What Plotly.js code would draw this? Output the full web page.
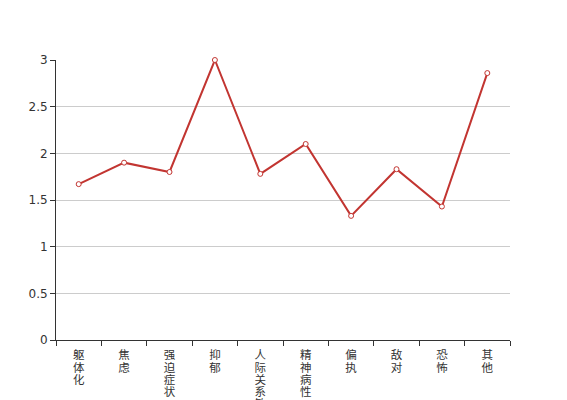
<!DOCTYPE html>
<html>
<head>
<meta charset="utf-8">
<script src="https://cdn.plot.ly/plotly-3.0.1.min.js"></script>
<style>html,body{margin:0;padding:0;background:#fff}#chart{width:567px;height:400px}</style>
</head>
<body>
<div id="chart"></div>
<script>
var categories = ["躯体化","焦虑","强迫症状","抑郁","人际关系敏感","精神病性","偏执","敌对","恐怖","其他"];
var values = [1.67, 1.9, 1.8, 3.0, 1.78, 2.1, 1.33, 1.83, 1.43, 2.86];
var yTicks = [0, 0.5, 1, 1.5, 2, 2.5, 3];
var yTickText = ["0", "0.5", "1", "1.5", "2", "2.5", "3"];

var tickText = categories.map(function(c){
  return c.split("").map(function(ch){ return '<span style="font-size:11.5px">' + ch + '</span>'; }).join("<br>");
});

var trace = {
  type: "scatter",
  mode: "lines+markers",
  x: categories,
  y: values,
  cliponaxis: false,
  line: {color: "#c23531", width: 2},
  marker: {symbol: "circle", size: 5, color: "#ffffff", line: {color: "#c23531", width: 1}},
  hoverinfo: "x+y"
};

var layout = {
  width: 567, height: 400,
  margin: {l: 56, r: 57, t: 60, b: 60},
  paper_bgcolor: "#fff", plot_bgcolor: "#fff",
  showlegend: false,
  font: {family: "'Noto Sans CJK SC', sans-serif", size: 12, color: "#333"},
  xaxis: {
    type: "category",
    tickvals: categories,
    ticktext: tickText,
    tickson: "boundaries",
    ticks: "outside", ticklen: 5, tickcolor: "#333",
    ticklabelstandoff: 7,
    showline: true, linecolor: "#333", linewidth: 1,
    showgrid: false, zeroline: false,
    tickangle: 0,
    tickfont: {size: 9.4, color: "#333", family: "'Noto Sans CJK SC', sans-serif"},
    range: [-0.5, categories.length - 0.5],
    fixedrange: true
  },
  yaxis: {
    range: [0, 3],
    tickvals: yTicks, ticktext: yTickText,
    ticks: "outside", ticklen: 5, tickcolor: "#333",
    showline: true, linecolor: "#333", linewidth: 1,
    showgrid: true, gridcolor: "#ccc", gridwidth: 1,
    zeroline: false,
    tickfont: {size: 12, color: "#333", family: "'DejaVu Sans', sans-serif"},
    fixedrange: true
  }
};

Plotly.newPlot("chart", [trace], layout, {displayModeBar: false, staticPlot: true});
</script>
</body>
</html>
